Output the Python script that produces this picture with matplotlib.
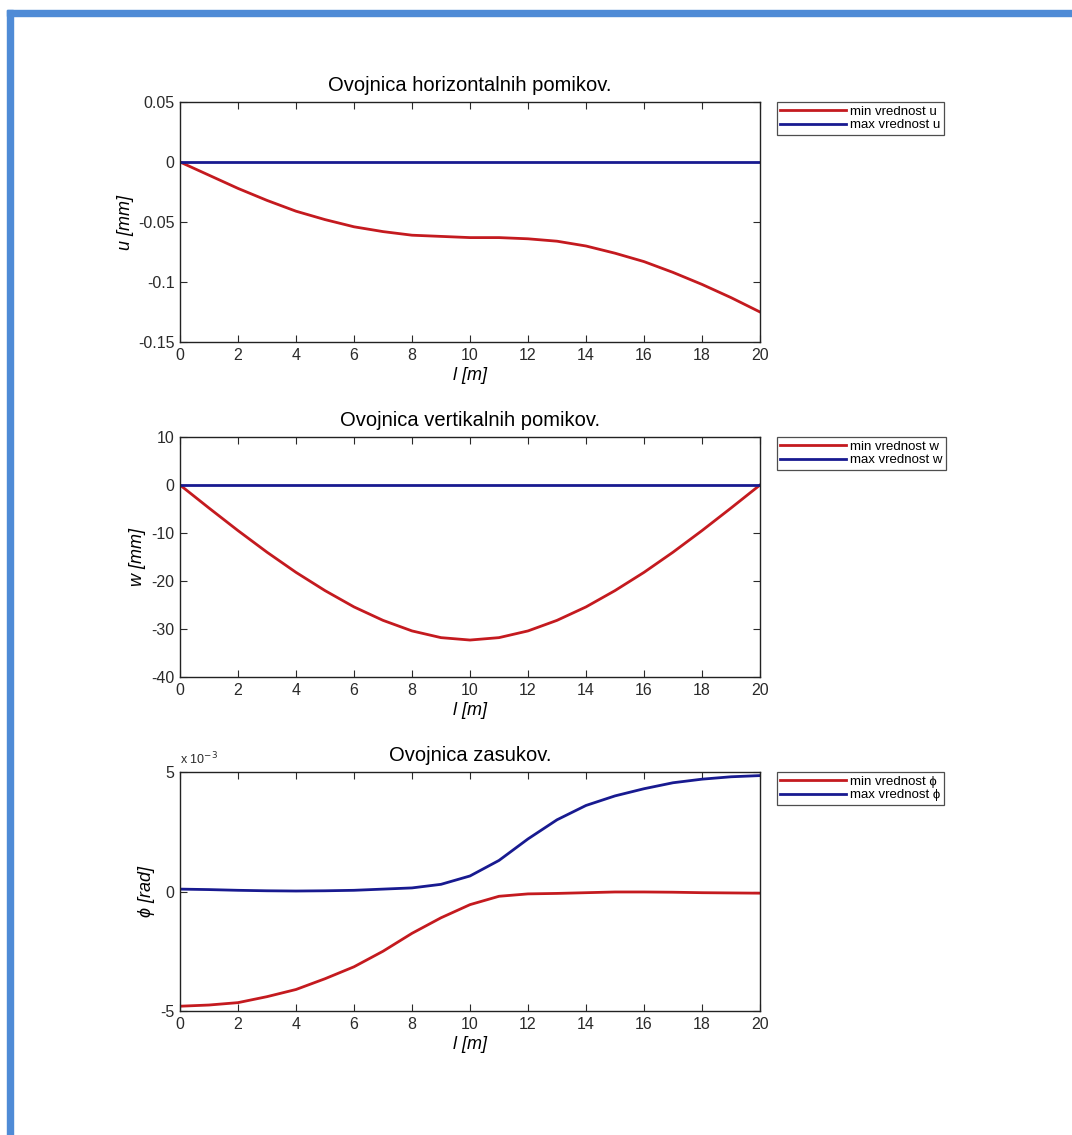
import matplotlib
matplotlib.use("Agg")
import matplotlib.pyplot as plt
from matplotlib.patches import Rectangle

plt.rcParams['font.family'] = ['Liberation Sans', 'DejaVu Sans']

# positions along the beam [m]
l = list(range(0, 21))

# horizontal displacements [mm]
u_min = [0, -0.011, -0.022, -0.032, -0.041, -0.048, -0.054, -0.058, -0.061, -0.062, -0.063,
         -0.063, -0.064, -0.066, -0.070, -0.076, -0.083, -0.092, -0.102, -0.113, -0.125]
u_max = [0] * 21

# vertical displacements [mm]
w_min = [0, -4.8, -9.5, -14.0, -18.2, -22.0, -25.4, -28.2, -30.4, -31.8, -32.3,
         -31.8, -30.4, -28.2, -25.4, -22.0, -18.2, -14.0, -9.5, -4.8, 0]
w_max = [0] * 21

# rotations [rad]
phi_min = [-4.8e-3, -4.75e-3, -4.65e-3, -4.4e-3, -4.1e-3, -3.65e-3, -3.15e-3, -2.5e-3, -1.75e-3,
           -1.1e-3, -0.55e-3, -0.2e-3, -0.1e-3, -0.08e-3, -0.05e-3, -0.02e-3, -0.02e-3,
           -0.03e-3, -0.05e-3, -0.06e-3, -0.07e-3]
phi_max = [0.1e-3, 0.08e-3, 0.05e-3, 0.03e-3, 0.02e-3, 0.03e-3, 0.05e-3, 0.1e-3, 0.15e-3,
           0.3e-3, 0.65e-3, 1.3e-3, 2.2e-3, 3.0e-3, 3.6e-3, 4.0e-3, 4.3e-3, 4.55e-3, 4.7e-3,
           4.8e-3, 4.85e-3]

x_ticks = list(range(0, 21, 2))

RED = '#c41a1f'
BLUE = '#181a90'

W, H = 1072, 1135
fig = plt.figure(figsize=(W / 100, H / 100), dpi=100)

# frame around the page
fig.patches.append(Rectangle((7 / W, 0), 6 / W, 1 - 10 / H, transform=fig.transFigure,
                             color='#4f8bd6', zorder=0))
fig.patches.append(Rectangle((7 / W, 1 - 16 / H), 1 - 7 / W, 6 / H, transform=fig.transFigure,
                             color='#4f8bd6', zorder=0))


def add_axes(px_left, px_top, px_right, px_bottom):
    return fig.add_axes([px_left / W, 1 - px_bottom / H,
                         (px_right - px_left) / W, (px_bottom - px_top) / H])


panels = [
    dict(box=(180, 102, 760, 342), ymin=u_min, ymax=u_max, ylim=(-0.15, 0.05),
         yticks=[-0.15, -0.1, -0.05, 0, 0.05], yticklabels=['-0.15', '-0.1', '-0.05', '0', '0.05'],
         title='Ovojnica horizontalnih pomikov.', ylabel='u [mm]', ylpad=3,
         labels=('min vrednost u', 'max vrednost u')),
    dict(box=(180, 437, 760, 677), ymin=w_min, ymax=w_max, ylim=(-40, 10),
         yticks=[-40, -30, -20, -10, 0, 10], yticklabels=['-40', '-30', '-20', '-10', '0', '10'],
         title='Ovojnica vertikalnih pomikov.', ylabel='w [mm]', ylpad=4,
         labels=('min vrednost w', 'max vrednost w')),
    dict(box=(180, 772, 760, 1011), ymin=phi_min, ymax=phi_max, ylim=(-5e-3, 5e-3),
         yticks=[-5e-3, 0, 5e-3], yticklabels=['-5', '0', '5'],
         title='Ovojnica zasukov.', ylabel='\u03d5 [rad]', ylpad=4,
         labels=('min vrednost \u03d5', 'max vrednost \u03d5')),
]

for i, p in enumerate(panels):
    ax = add_axes(*p['box'])
    l1, = ax.plot(l, p['ymin'], color=RED, lw=2.0, label=p['labels'][0])
    l2, = ax.plot(l, p['ymax'], color=BLUE, lw=2.0, label=p['labels'][1])
    ax.set_xlim(0, 20)
    ax.set_ylim(*p['ylim'])
    ax.set_xticks(x_ticks)
    ax.set_yticks(p['yticks'])
    ax.set_yticklabels(p['yticklabels'])
    ax.tick_params(direction='in', length=5, width=0.8, labelsize=11.5, colors='#2a2a2a',
                   top=True, right=True)
    ax.tick_params(axis='x', pad=4)
    ax.tick_params(axis='y', pad=4)
    for s in ax.spines.values():
        s.set_linewidth(1.0)
        s.set_color('#222222')
    ax.set_title(p['title'], fontsize=14.5, pad=8)
    ax.set_xlabel('l [m]', fontsize=13, style='italic', labelpad=3)
    ax.set_ylabel(p['ylabel'], fontsize=13, style='italic', labelpad=p['ylpad'])
    top_px = p['box'][1]
    leg = ax.legend(handles=[l1, l2], loc='upper left', bbox_to_anchor=(777 / W, 1 - top_px / H),
                    bbox_transform=fig.transFigure, fontsize=9.5, frameon=True, fancybox=False,
                    edgecolor='#222222', handlelength=5.0, handletextpad=0.3, borderpad=0.25,
                    labelspacing=0.12, borderaxespad=0)
    leg.get_frame().set_linewidth(0.9)
    if i == 2:
        fig.text(180 / W, 1 - 767 / H, 'x 10$^{-3}$', fontsize=9, ha='left', va='bottom',
                 color='#2a2a2a')

fig.savefig('out.png', dpi=100, facecolor='white')
